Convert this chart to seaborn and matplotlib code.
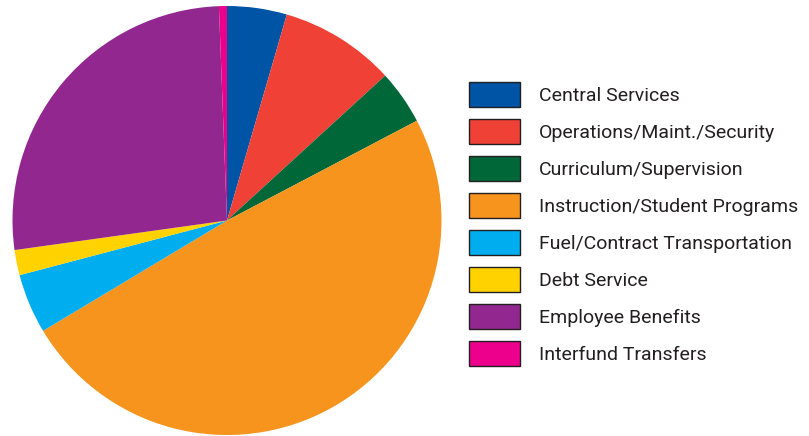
import matplotlib.pyplot as plt
import seaborn as sns

categories = ['Central Services', 'Operations/Maint./Security', 'Curriculum/Supervision',
              'Instruction/Student Programs', 'Fuel/Contract Transportation', 'Debt Service',
              'Employee Benefits', 'Interfund Transfers']
shares = [4.5, 8.7, 4.1, 49.1, 4.5, 1.9, 26.6, 0.6]
colors = ['#0054A6', '#EF4136', '#006838', '#F7941D', '#00AEEF', '#FFD200', '#92278F', '#EC008C']

sns.set_theme(style='white')
plt.rcParams['font.family'] = ['Roboto', 'DejaVu Sans']

W, H = 809, 436
fig = plt.figure(figsize=(W / 100, H / 100), dpi=100)
ax = fig.add_axes([0, 0, 1, 1])

# pie drawn in pixel-like data units so it lands where the original sits
wedges, _ = ax.pie(shares, colors=colors, startangle=90, counterclock=False,
                   center=(227, H - 220.5), radius=214.5,
                   wedgeprops={'linewidth': 0})
ax.set_xlim(0, W)
ax.set_ylim(0, H)
ax.set_aspect('equal')
ax.axis('off')

fs = 14
px = fs * 100 / 72
# legend box height = fs*(0.65*hh + 0.245), want ~25px
hh = (25 / px - 0.245) / 0.65
handles = [plt.Rectangle((0, 0), 1, 1, facecolor=c, edgecolor='#231F20', linewidth=1)
           for c in colors]
leg = ax.legend(handles, categories, loc='upper left',
                bbox_to_anchor=(469 / W, 1 - 82 / H), bbox_transform=fig.transFigure,
                frameon=False, fontsize=fs, handlelength=51 / px, handleheight=hh,
                handletextpad=19 / px, labelspacing=12 / px, borderpad=0, borderaxespad=0)
for t in leg.get_texts():
    t.set_color('#231F20')

fig.savefig('out.png', dpi=100)
